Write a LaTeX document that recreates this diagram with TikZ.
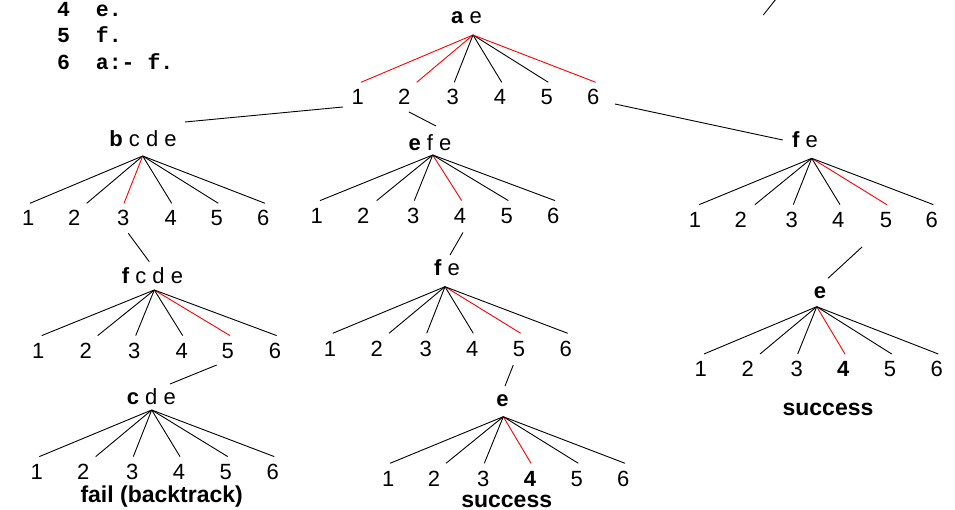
\documentclass[tikz,border=0pt]{standalone}
\usepackage{fontspec}
\setmainfont{Liberation Sans}
\setmonofont{Liberation Mono}
\begin{document}
\begin{tikzpicture}[x=1pt,y=-1pt,
  lbl/.style={anchor=base,inner sep=0pt,font=\fontsize{22}{26}\selectfont},
  num/.style={lbl,text height=22.5pt,text depth=0pt},
  numb/.style={num,font=\fontsize{22}{26}\selectfont\bfseries},
  status/.style={anchor=base,inner sep=0pt,font=\fontsize{23}{27}\selectfont\bfseries},
  code/.style={anchor=base west,inner sep=0pt,font=\fontsize{21.5}{25}\selectfont\ttfamily\bfseries},
  edge/.style={draw=black,line width=0.9pt},
  hit/.style={draw=red,line width=0.9pt},
  link/.style={draw=black,line width=0.9pt}]
\useasboundingbox (0,0) rectangle (955,510);

% program text
\node[code] (L4) at (57,16.5) {4~~e.};
\node[code] (L5) at (57,43) {5~~f.};
\node[code] (L6) at (57,69.5) {6~~a:-~f.};

% T1: a e
\node[lbl] (T1) at (466.5,24) {\textbf{a} e};
\coordinate (T1ap) at (473,35);
\foreach \i/\x/\d/\e/\s in {1/357.7/3.3/hit/num,2/404.3/12.4/hit/num,3/452.7/1.6/edge/num,4/500/1.7/edge/num,5/546.7/1.6/edge/num,6/593.3/2.4/hit/num}{
  \node[\s] (T1c\i) at (\x,105) {\i};
  \draw[\e] (T1ap) -- ([xshift=\d pt]T1c\i.north);
}

% T2: b c d e
\node[lbl] (T2) at (143,146.7) {\textbf{b} c d e};
\coordinate (T2ap) at (142.7,156);
\foreach \i/\x/\d/\e/\s in {1/28.3/1.7/edge/num,2/74.3/12.4/edge/num,3/123.3/0.7/hit/num,4/170.7/1/edge/num,5/216.7/1.6/edge/num,6/263.3/1.7/edge/num}{
  \node[\s] (T2c\i) at (\x,226) {\i};
  \draw[\e] (T2ap) -- ([xshift=\d pt]T2c\i.north);
}

% T3: e f e
\node[lbl] (T3) at (430,150.7) {\textbf{e} f e};
\coordinate (T3ap) at (432.7,155);
\foreach \i/\x/\d/\e/\s in {1/316.7/3.3/edge/num,2/363.3/13.4/edge/num,3/413.3/1/edge/num,4/460/1.7/hit/num,5/506.7/1.6/edge/num,6/553.3/1.7/edge/num}{
  \node[\s] (T3c\i) at (\x,223.3) {\i};
  \draw[\e] (T3ap) -- ([xshift=\d pt]T3c\i.north);
}

% T4: f e (right)
\node[lbl] (T4) at (805,147.3) {\textbf{f} e};
\coordinate (T4ap) at (811.7,158.3);
\foreach \i/\x/\d/\e/\s in {1/695/4.3/edge/num,2/740.7/14.3/edge/num,3/791.7/1.6/edge/num,4/838.3/1.7/edge/num,5/886/0.7/hit/num,6/931.7/1.6/edge/num}{
  \node[\s] (T4c\i) at (\x,227.3) {\i};
  \draw[\e] (T4ap) -- ([xshift=\d pt]T4c\i.north);
}

% T5: f c d e
\node[lbl] (T5) at (152.5,283.3) {\textbf{f} c d e};
\coordinate (T5ap) at (154.3,290);
\foreach \i/\x/\d/\e/\s in {1/38.3/3.4/edge/num,2/85.7/12/edge/num,3/134.3/1.4/edge/num,4/181.7/1/edge/num,5/227.7/2.3/hit/num,6/275/1.7/edge/num}{
  \node[\s] (T5c\i) at (\x,358.3) {\i};
  \draw[\e] (T5ap) -- ([xshift=\d pt]T5c\i.north);
}

% T6: c d e
\node[lbl] (T6) at (151.3,404.3) {\textbf{c} d e};
\coordinate (T6ap) at (151.7,410);
\foreach \i/\x/\d/\e/\s in {1/36.7/2.6/edge/num,2/83.3/12.4/edge/num,3/132.3/1/edge/num,4/179/1/edge/num,5/225.7/2/edge/num,6/272.7/1.6/edge/num}{
  \node[\s] (T6c\i) at (\x,479.3) {\i};
  \draw[\e] (T6ap) -- ([xshift=\d pt]T6c\i.north);
}
\node[status] (S1) at (161.7,502) {fail (backtrack)};

% T7: f e (middle)
\node[lbl] (T7) at (447,276) {\textbf{f} e};
\coordinate (T7ap) at (445,286.7);
\foreach \i/\x/\d/\e/\s in {1/330/2.7/edge/num,2/376.7/12.3/edge/num,3/425.7/1/edge/num,4/472.3/1/edge/num,5/519/1.7/hit/num,6/565.7/2/edge/num}{
  \node[\s] (T7c\i) at (\x,356) {\i};
  \draw[\e] (T7ap) -- ([xshift=\d pt]T7c\i.north);
}

% T8: e (middle bottom)
\node[lbl] (T8) at (502.5,406.7) {\textbf{e}};
\coordinate (T8ap) at (503.3,416.7);
\foreach \i/\x/\d/\e/\s in {1/388.3/1.7/edge/num,2/434/12/edge/num,3/483.3/1/edge/num,4/530/1/hit/numb,5/576.7/1.6/edge/num,6/623.3/1.7/edge/num}{
  \node[\s] (T8c\i) at (\x,486) {\i};
  \draw[\e] (T8ap) -- ([xshift=\d pt]T8c\i.north);
}
\node[status] (S2) at (506.7,507) {success};

% T9: e (right bottom)
\node[lbl] (T9) at (820,298.3) {\textbf{e}};
\coordinate (T9ap) at (816.7,306.7);
\foreach \i/\x/\d/\e/\s in {1/700.7/3.3/edge/num,2/747.7/12.3/edge/num,3/796.7/1/edge/num,4/843.3/1.7/hit/numb,5/890/1.7/edge/num,6/936.7/1.6/edge/num}{
  \node[\s] (T9c\i) at (\x,376.7) {\i};
  \draw[\e] (T9ap) -- ([xshift=\d pt]T9c\i.north);
}
\node[status] (S3) at (828,415.7) {success};

% connectors between trees
\draw[link] ([shift={(-14.7,2)}]T1c1.base) -- ([shift={(42,-24.7)}]T2.base);
\draw[link] ([shift={(4.7,7)}]T1c2.base) -- ([shift={(6,-24.7)}]T3.base);
\draw[link] ([shift={(21.7,-1)}]T1c6.base) -- ([shift={(-22.3,-7.3)}]T4.base);
\draw[link] ([shift={(5,7.3)}]T2c3.base) -- ([shift={(-3.2,-21.6)}]T5.base);
\draw[link] ([shift={(-11,6.7)}]T5c5.base) -- ([shift={(18.7,-20.3)}]T6.base);
\draw[link] ([shift={(3,9.2)}]T3c4.base) -- ([shift={(3,-21)}]T7.base);
\draw[link] ([shift={(-5.7,9)}]T7c5.base) -- ([shift={(2.5,-20.7)}]T8.base);
\draw[link] ([shift={(-24,19.7)}]T4c5.base) -- ([shift={(8,-20)}]T9.base);

% fragment of a connector cut by the top edge
\coordinate (F1) at (763.3,15);
\coordinate (F2) at (776,-1);
\draw[link] (F1) -- (F2);
\end{tikzpicture}
\end{document}
